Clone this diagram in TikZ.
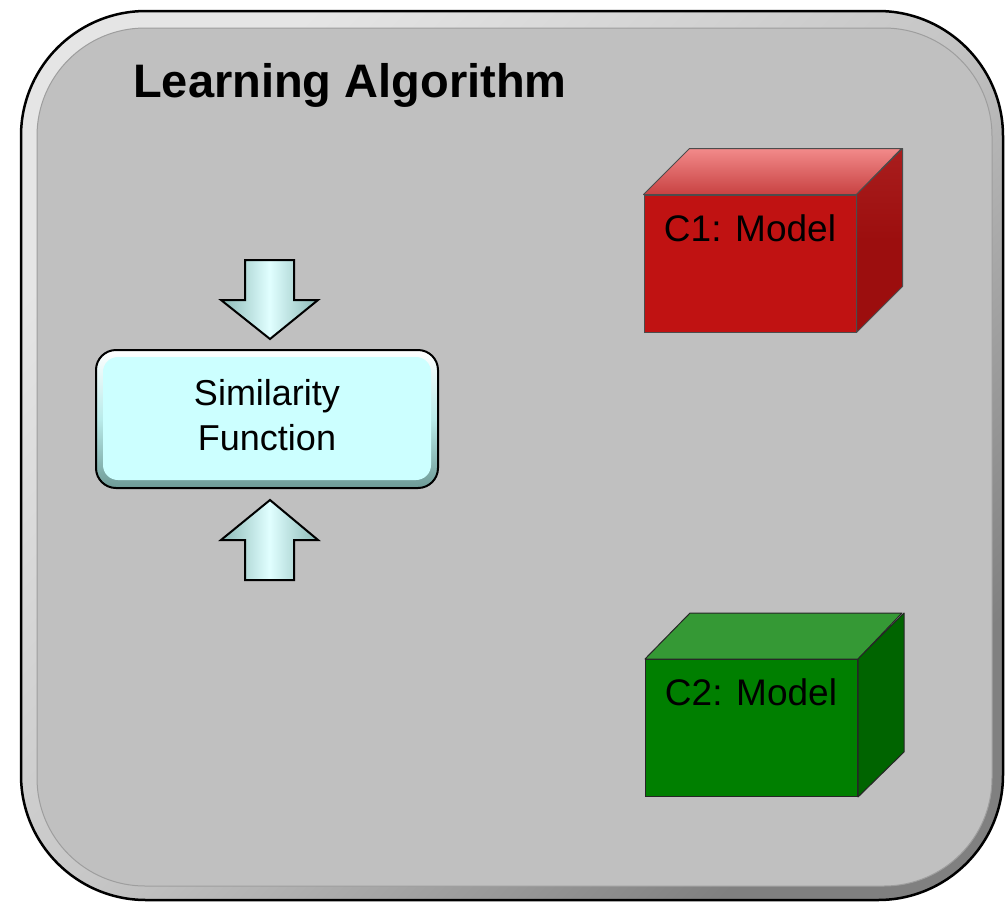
\documentclass[tikz,border=0pt]{standalone}
\usepackage{fontspec}
\setmainfont{Liberation Sans}
\usetikzlibrary{calc}

\definecolor{panelgray}{HTML}{C0C0C0}
\definecolor{simfill}{HTML}{CCFFFF}
\definecolor{simdark}{HTML}{6E9A96}
\definecolor{redfront}{HTML}{C01212}
\definecolor{redside}{HTML}{9C0E0E}
\definecolor{redtopback}{HTML}{F28A8A}
\definecolor{redtopfront}{HTML}{C84242}
\definecolor{greenfront}{HTML}{007F00}
\definecolor{greenside}{HTML}{006400}
\definecolor{greentop}{HTML}{359935}

\tikzset{
  frameouter/.style={draw=black, line width=2.5pt, rounded corners=125pt,
    shading=axis, top color=white!90!black, bottom color=black!50, middle color=black!22,
    shading angle=45},
  frameinner/.style={draw=black!38, line width=1pt, fill=panelgray, rounded corners=108pt},
  title/.style={font=\bfseries\fontsize{47}{56}\selectfont, anchor=base west, inner sep=0pt},
  simbevel/.style={rounded corners=20pt, shading=axis, top color=white,
    bottom color=simdark, middle color=simfill!80!simdark},
  simface/.style={fill=simfill, rounded corners=15pt},
  simedge/.style={draw=black, line width=2pt, rounded corners=20pt},
  simtext/.style={font=\fontsize{36}{44}\selectfont, anchor=base, inner sep=0pt},
  blockarrow/.style={draw=black, line width=2pt, line join=miter,
    shading=axis, left color=simdark!70!simfill, right color=simdark!70!simfill,
    middle color=simfill!60!white},
  cubefront/.style={draw=#1, line width=1pt, minimum width=212pt, minimum height=137pt,
    inner sep=0pt},
  cubeedge/.style={draw=#1, line width=1pt, line join=round},
  modeltext/.style={font=\fontsize{37}{44}\selectfont, anchor=base, inner sep=0pt},
}

\begin{document}
\begin{tikzpicture}[x=1pt, y=-1pt]
  \useasboundingbox (0,0) rectangle (1005,903);

  % outer panel with bevelled rim
  \path[frameouter] (21,11) rectangle (1003,900);
  \path[frameinner] (37,28) rectangle (992,886);

  \node[title] (title) at (133,97) {Learning Algorithm};

  % similarity function box with bevel
  \path[simbevel] (96,350) rectangle (438,488);
  \path[simface] (103,357) rectangle (431,480);
  \node[simedge, minimum width=342pt, minimum height=138pt, inner sep=0pt] (sim) at (267,419) {};
  \node[simtext] (simA) at (267,405) {Similarity};
  \node[simtext] (simB) at (267,450) {Function};

  % block arrows pointing at the box
  \path[blockarrow] (245,260) -- (294,260) -- (294,300) -- (318,300) -- (270,339)
        -- (221,300) -- (245,300) -- cycle;
  \path[blockarrow] (270,500) -- (318,540) -- (294,540) -- (294,580) -- (245,580)
        -- (245,540) -- (221,540) -- cycle;

  % C1 model cube
  \node[cubefront=black!70, fill=redfront] (c1) at (750,263.5) {};
  \path[cubeedge=black!70, shading=axis, top color=redtopback, bottom color=redtopfront]
    (c1.north west) -- ++(46,-46) -- ++(212,0) -- (c1.north east) -- cycle;
  \path[cubeedge=black!70, shading=axis, top color=redside!70!redtopfront, bottom color=redside, middle color=redside]
    (c1.north east) -- ++(46,-46) -- ++(0,138) -- (c1.south east) -- cycle;
  \node[modeltext] (c1label) at (750,241) {C1: Model};

  % C2 model cube
  \node[cubefront=black!85, fill=greenfront] (c2) at (751.5,728) {};
  \path[cubeedge=black!85, fill=greentop]
    (c2.north west) -- ++(45,-46) -- ++(212,0) -- (c2.north east) -- cycle;
  \path[cubeedge=black!85, fill=greenside]
    (c2.north east) -- ++(46,-46) -- ++(0,139) -- (c2.south east) -- cycle;
  \node[modeltext] (c2label) at (751,705) {C2: Model};
\end{tikzpicture}
\end{document}
